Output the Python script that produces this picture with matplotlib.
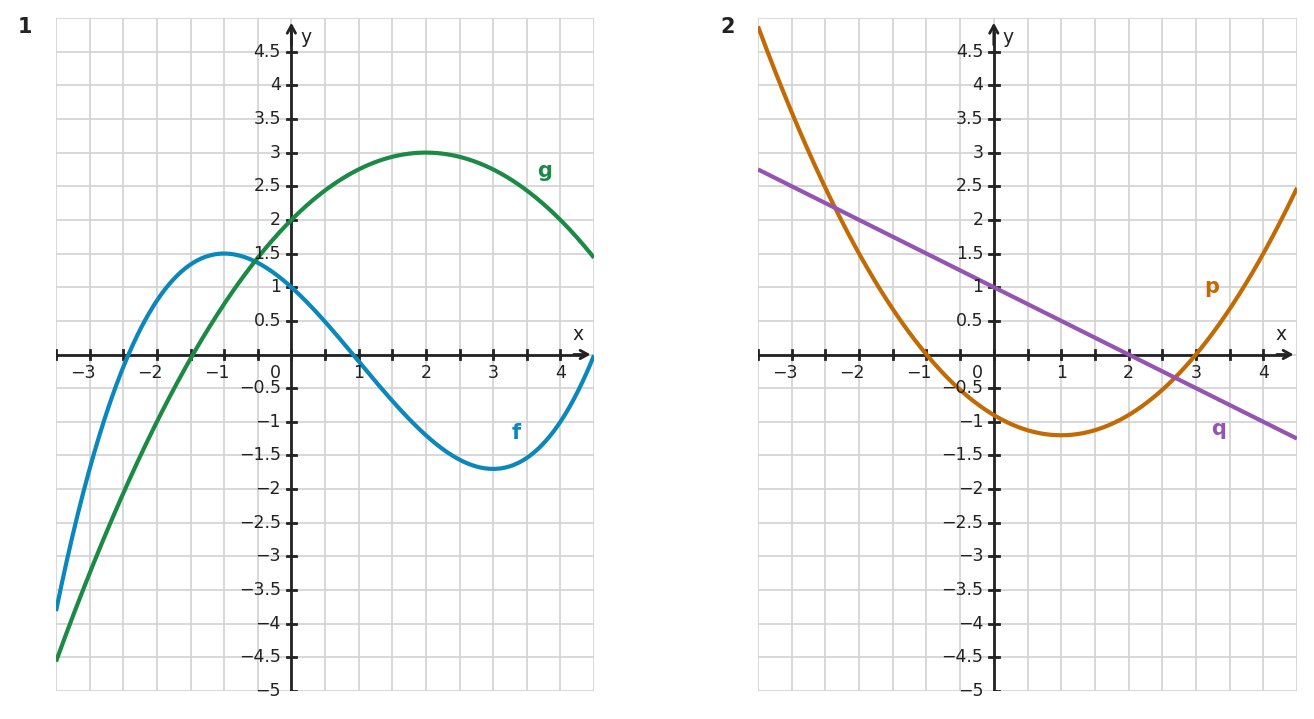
import numpy as np
import matplotlib.pyplot as plt

# axis window of both panels
x_min, x_max = -3.5, 4.5
y_min, y_max = -5, 5

# curves (polynomial coefficients, highest power first)
f_coeffs = [0.1, -0.3, -0.9, 1.0]   # max at (-1, 1.5), min at (3, -1.7)
g_coeffs = [-0.25, 1.0, 2.0]        # vertex (2, 3)
p_coeffs = [0.3, -0.6, -0.9]        # vertex (1, -1.2)
q_coeffs = [-0.5, 1.0]              # through (0, 1) and (2, 0)

x_ticks = [-3, -2, -1, 1, 2, 3, 4]
x_tick_labels = ["\u22123", "\u22122", "\u22121", "1", "2", "3", "4"]
y_ticks = [4.5, 4, 3.5, 3, 2.5, 2, 1.5, 1, 0.5,
           -0.5, -1, -1.5, -2, -2.5, -3, -3.5, -4, -4.5, -5]
y_tick_labels = ["4.5", "4", "3.5", "3", "2.5", "2", "1.5", "1", "0.5",
                 "\u22120.5", "\u22121", "\u22121.5", "\u22122", "\u22122.5",
                 "\u22123", "\u22123.5", "\u22124", "\u22124.5", "\u22125"]

# curve name, coefficients, colour, label position
panel1 = [("f", f_coeffs, "#0a87bb", (3.34, -1.16)),
          ("g", g_coeffs, "#1b8a44", (3.77, 2.73))]
panel2 = [("p", p_coeffs, "#c26a04", (3.24, 1.01)),
          ("q", q_coeffs, "#9553b3", (3.33, -1.10))]

axis_col = "#222222"
grid_col = "#d2d2d2"
fs = 12.5

fig = plt.figure(figsize=(13.14, 7.19), dpi=100)


def draw_panel(ax, curves):
    ax.set_xlim(x_min, x_max)
    ax.set_ylim(y_min, y_max)
    for s in ax.spines.values():
        s.set_visible(False)
    ax.set_xticks([])
    ax.set_yticks([])

    # grid every 0.5
    for gx in np.arange(x_min, x_max + 0.01, 0.5):
        ax.axvline(gx, color=grid_col, lw=1.2, zorder=1)
    for gy in np.arange(y_min, y_max + 0.01, 0.5):
        ax.axhline(gy, color=grid_col, lw=1.2, zorder=1)

    # axes with arrows
    ax.plot([x_min, 4.35], [0, 0], color=axis_col, lw=2, zorder=2,
            solid_capstyle="butt")
    ax.plot([0, 0], [y_min, 4.8], color=axis_col, lw=2, zorder=2,
            solid_capstyle="butt")
    ax.annotate("", xy=(4.45, 0), xytext=(4.2, 0), zorder=2,
                arrowprops=dict(arrowstyle="->,head_length=0.55,head_width=0.3",
                                lw=2, color=axis_col, shrinkA=0, shrinkB=0))
    ax.annotate("", xy=(0, 4.93), xytext=(0, 4.6), zorder=2,
                arrowprops=dict(arrowstyle="->,head_length=0.55,head_width=0.3",
                                lw=2, color=axis_col, shrinkA=0, shrinkB=0))

    # tick marks every 0.5
    for tx in np.arange(x_min, 4.01, 0.5):
        ax.plot([tx, tx], [-0.06, 0.06], color=axis_col, lw=2, zorder=2)
    for ty in np.arange(-4.5, 4.51, 0.5):
        if ty == 0:
            continue
        ax.plot([-0.07, 0.07], [ty, ty], color=axis_col, lw=2, zorder=2)
    ax.plot([0, 0.07], [y_min, y_min], color=axis_col, lw=2, zorder=2)

    # curves
    xs = np.linspace(x_min, x_max, 400)
    for name, coeffs, col, (lx, ly) in curves:
        ax.plot(xs, np.polyval(coeffs, xs), color=col, lw=3, zorder=3,
                solid_capstyle="butt")
        ax.text(lx, ly, name, color=col, fontsize=15, fontweight="bold",
                ha="center", va="center", zorder=5)

    # tick labels
    for tx, lab in zip(x_ticks, x_tick_labels):
        off = 4 if lab.startswith("\u2212") else 0
        ax.annotate(lab, xy=(tx, 0), xytext=(off, -13), textcoords="offset points",
                    ha="right" if off else "center", va="center",
                    fontsize=fs, color=axis_col, zorder=5)
    for ty, lab in zip(y_ticks, y_tick_labels):
        ax.annotate(lab, xy=(0, ty), xytext=(-7.5, 0), textcoords="offset points",
                    ha="right", va="center", fontsize=fs, color=axis_col, zorder=5)
    ax.annotate("0", xy=(0, 0), xytext=(-11.5, -13), textcoords="offset points",
                ha="center", va="center", fontsize=fs, color=axis_col, zorder=5)
    ax.text(4.26, 0.3, "x", fontsize=fs + 1, color=axis_col, ha="center",
            va="center", zorder=5)
    ax.text(0.21, 4.71, "y", fontsize=fs + 1, color=axis_col, ha="center",
            va="center", zorder=5)


ax1 = fig.add_axes([56 / 1314, 28 / 719, 538 / 1314, 673 / 719])
draw_panel(ax1, panel1)
ax2 = fig.add_axes([758 / 1314, 28 / 719, 539 / 1314, 673 / 719])
draw_panel(ax2, panel2)

fig.text(25 / 1314, 1 - 27 / 719, "1", fontsize=15, fontweight="bold",
         color=axis_col, ha="center", va="center")
fig.text(728 / 1314, 1 - 27 / 719, "2", fontsize=15, fontweight="bold",
         color=axis_col, ha="center", va="center")

fig.savefig("out.png", dpi=100)
